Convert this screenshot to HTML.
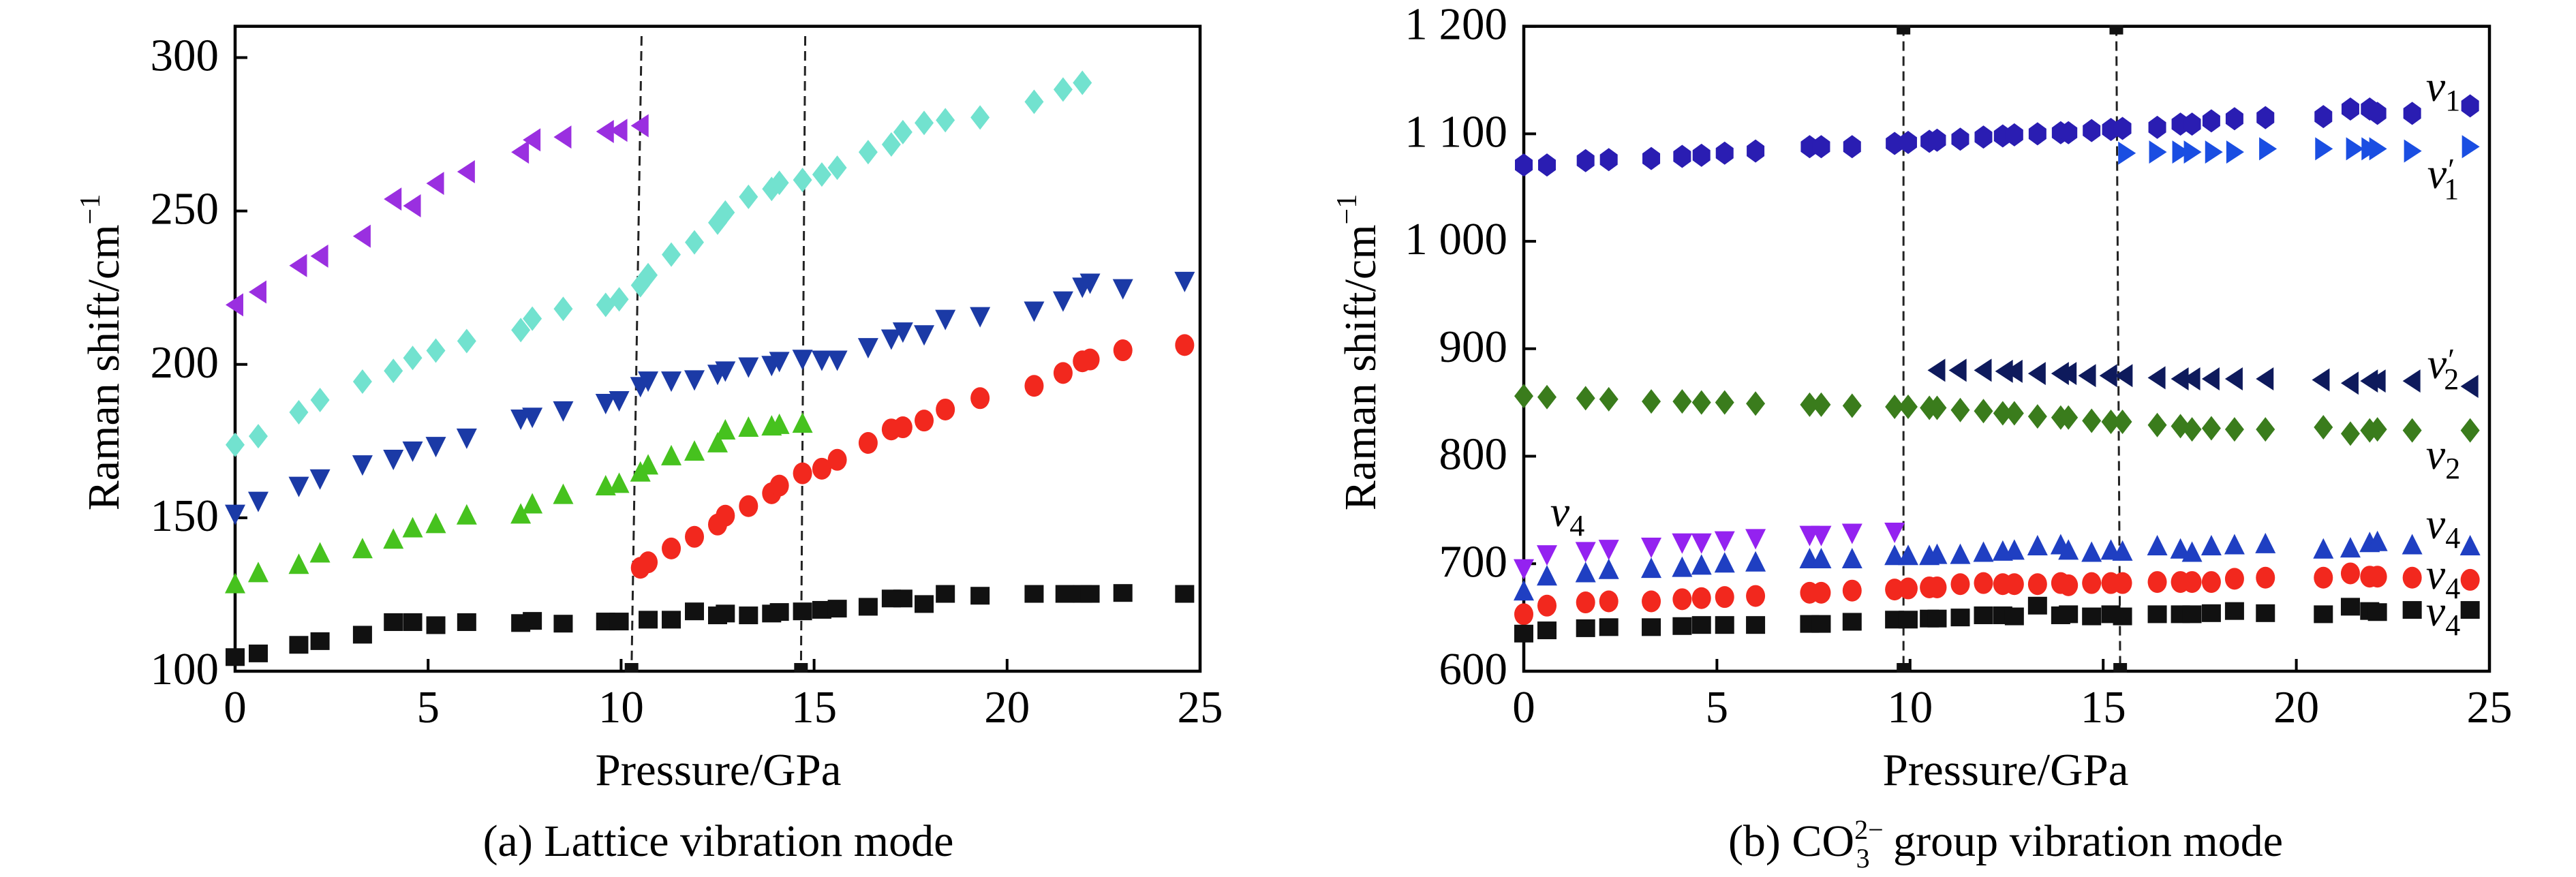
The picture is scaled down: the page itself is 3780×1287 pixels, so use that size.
<!DOCTYPE html>
<html><head><meta charset="utf-8"><style>
html,body{margin:0;padding:0;background:#fff;}
svg{display:block;font-family:"Liberation Serif",serif;}
</style></head><body>
<svg id="chart" width="3780" height="1287" viewBox="0 0 3780 1287" xmlns="http://www.w3.org/2000/svg"></svg>
<script>
// ---------- Panel (a) data ----------
const aBlackX=[0,0.6,1.65,2.2,3.3,4.1,4.6,5.2,6,7.4,7.7,8.5,9.6,9.95,10.7,11.3,11.9,12.5,12.7,13.3,13.9,14.1,14.7,15.2,15.6,16.4,17,17.3,17.85,18.4,19.3,20.7,21.5,21.95,22.15,23,24.6];
const aBlackY=[104.6,105.8,108.6,109.8,111.9,116,116,115,116,115.7,116.4,115.5,116.2,116.2,116.8,116.8,119.5,118.2,118.8,118.2,118.8,119.3,119.5,120,120.4,121,123.7,123.7,121.9,125.2,124.6,125.2,125.2,125.2,125.2,125.5,125.2];
const aRedX=[10.5,10.7,11.3,11.9,12.5,12.7,13.3,13.9,14.1,14.7,15.2,15.6,16.4,17,17.3,17.85,18.4,19.3,20.7,21.45,21.95,22.15,23,24.6];
const aRedY=[133.7,135.5,140,143.8,147.8,150.7,153.8,158,160.5,164.5,166,168.9,174.4,178.8,179.5,181.7,185.3,189,193,197.2,201,201.6,204.6,206.3];
const aGreenX=[0,0.6,1.65,2.2,3.3,4.1,4.6,5.2,6,7.4,7.7,8.5,9.6,9.95,10.5,10.7,11.3,11.9,12.5,12.7,13.3,13.9,14.1,14.7];
const aGreenY=[128.3,131.9,134.6,138.3,139.7,142.8,146.5,147.9,150.7,151,154.3,157.4,160.2,161,164.7,167,170,171.5,174.2,178.4,179.3,179.7,180.2,180.6];
const aBlueX=[0,0.6,1.65,2.2,3.3,4.1,4.6,5.2,6,7.4,7.7,8.5,9.6,9.95,10.5,10.7,11.3,11.9,12.5,12.7,13.3,13.9,14.1,14.7,15.2,15.6,16.4,17,17.3,17.85,18.4,19.3,20.7,21.45,21.95,22.15,23,24.6];
const aBlueY=[151.4,155.6,160.5,162.9,167.5,169.3,172,173.5,176.2,182.4,183,185.1,187.5,188.4,193,194.8,194.8,195.2,197,198.1,199.4,199.9,201.2,201.9,201.6,201.6,205.7,208.5,210.8,209.9,214.9,215.8,217.6,220.9,225.4,226.7,224.9,227.3];
const aCyanX=[0,0.6,1.65,2.2,3.3,4.1,4.6,5.2,6,7.4,7.7,8.5,9.6,9.95,10.5,10.7,11.3,11.9,12.5,12.7,13.3,13.9,14.1,14.7,15.2,15.6,16.4,17,17.3,17.85,18.4,19.3,20.7,21.45,21.95];
const aCyanY=[173.8,176.6,184.4,188.4,194.4,197.9,202.1,204.5,207.6,211.2,214.9,218.1,219.4,221.2,225.8,229.1,235.8,239.8,246.2,249.5,254.6,257.2,259.2,260.1,261.9,264.1,269.2,271.7,275.7,278.7,279.6,280.5,285.6,289.6,291.8];
const aPurpleX=[0,0.6,1.65,2.2,3.3,4.1,4.6,5.2,6,7.4,7.7,8.5,9.6,9.95,10.5];
const aPurpleY=[219.4,223.6,232.2,235.3,241.8,253.9,251.7,259,262.8,269.2,273.2,274.1,275.9,276.3,277.8];
const aXTicks=[0,5,10,15,20,25];
const aYTicks=[100,150,200,250,300];
const aYTickLabels=["100","150","200","250","300"];

// ---------- Panel (b) data ----------
const bX=[0,0.6,1.6,2.2,3.3,4.1,4.6,5.2,6,7.4,7.7,8.5,9.6,9.95,10.5,10.7,11.3,11.9,12.4,12.7,13.3,13.9,14.1,14.7,15.2,15.5,16.4,17,17.3,17.8,18.4,19.2,20.7,21.4,21.9,22.1,23,24.5];
const bNu1Y=[1071,1071,1075,1076,1077,1079,1080,1082,1084,1088,1088,1088,1091,1092,1093,1094,1095,1097,1098,1099,1100,1101,1101,1103,1104,1105,1106,1109,1109,1112,1114,1115,1116,1123,1123,1119,1119,1126];
const bNu1pX=[15.6,16.4,17,17.3,17.85,18.4,19.25,20.7,21.5,21.9,22.1,23,24.5];
const bNu1pY=[1082,1083,1083,1083,1083,1083,1086,1086,1086,1086,1086,1084,1088];
const bNu2pX=[10.7,11.25,11.9,12.45,12.7,13.3,13.9,14.1,14.6,15.15,15.55,16.4,17,17.3,17.8,18.4,19.2,20.65,21.4,21.9,22.1,23,24.5];
const bNu2pY=[880,880,880,879,879,877,877,877,875,875,875,873,872,872,872,872,872,871,868,870,870,870,865];
const bNu2Y=[856,855,854,853,851,851,850,850,849,848,848,847,846,846,845,845,843,842,840,840,837,836,836,833,832,832,829,828,825,826,825,825,827,821,824,825,824,824];
const bNu4PurX=[0,0.6,1.6,2.2,3.3,4.1,4.6,5.2,6,7.4,7.7,8.5,9.6];
const bNu4PurY=[696,709,712,714,716,720,720,722,724,727,727,729,730];
const bNu4BlueY=[674,688,691,694,695,696,698,700,701,704,704,704,707,707,707,708,708,710,711,712,716,717,712,710,712,711,716,713,710,716,717,718,713,714,719,720,717,716];
const bNu4RedY=[653,661,664,665,665,667,668,669,670,673,673,675,676,677,678,678,681,682,681,681,681,682,680,682,682,682,683,683,683,683,686,687,687,691,688,688,687,685];
const bNu4BlackY=[635,638,640,641,641,642,643,643,643,644,644,646,648,648,649,649,650,652,652,651,661,652,653,651,653,651,653,653,653,654,656,654,653,660,656,655,657,657];
const bXTicks=[0,5,10,15,20,25];
const bYTicks=[600,700,800,900,1000,1100,1200];
const bYTickLabels=["600","700","800","900","1 000","1 100","1 200"];

const NS="http://www.w3.org/2000/svg";
const svg=document.getElementById('chart');
function mk(tag,attrs,parent){const e=document.createElementNS(NS,tag);for(const k in attrs)e.setAttribute(k,attrs[k]);(parent||svg).appendChild(e);return e;}

function makeAxes(L,R,T,B,xmin,xmax,ymin,ymax){
  return {x:v=>L+(v-xmin)/(xmax-xmin)*(R-L), y:v=>B-(v-ymin)/(ymax-ymin)*(B-T), L,R,T,B};
}
const A=makeAxes(345,1761,38.6,985,0,25,100,310.2);
const Bx=makeAxes(2236,3653,38.6,985,0,25,600,1200);

function marker(g,shape,cx,cy,color){
  const s=15;let e;
  if(shape==='square') e=mk('rect',{x:cx-s+1,y:cy-s+2,width:2*s-2,height:2*s-4,fill:color},g);
  else if(shape==='circle') e=mk('ellipse',{cx:cx,cy:cy,rx:s-1,ry:s+1,fill:color},g);
  else if(shape==='up') e=mk('polygon',{points:`${cx},${cy-s-2} ${cx+s},${cy+s-2} ${cx-s},${cy+s-2}`,fill:color},g);
  else if(shape==='down') e=mk('polygon',{points:`${cx-s},${cy-s+2} ${cx+s},${cy-s+2} ${cx},${cy+s+2}`,fill:color},g);
  else if(shape==='left') e=mk('polygon',{points:`${cx+s-3},${cy-s-2} ${cx+s-3},${cy+s+2} ${cx-s+1},${cy}`,fill:color},g);
  else if(shape==='right') e=mk('polygon',{points:`${cx-s+3},${cy-s-2} ${cx-s+3},${cy+s+2} ${cx+s-1},${cy}`,fill:color},g);
  else if(shape==='diamond') e=mk('polygon',{points:`${cx},${cy-s-3} ${cx+s-1},${cy} ${cx},${cy+s+3} ${cx-s+1},${cy}`,fill:color},g);
  else if(shape==='hex') e=mk('polygon',{points:`${cx},${cy-s-2} ${cx+s-2},${cy-s/2} ${cx+s-2},${cy+s/2} ${cx},${cy+s+2} ${cx-s+2},${cy+s/2} ${cx-s+2},${cy-s/2}`,fill:color},g);
  
  
}
function series(ax,name,xs,ys,shape,color){
  const g=mk('g',{});
  
  
  for(let i=0;i<xs.length&&i<ys.length;i++) marker(g,shape,ax.x(xs[i]),ax.y(ys[i]),color);
}
function frame(ax,xt,yt,ylabels,prefix){
  const g=mk('g',{});
  
  
  const f=mk('rect',{x:ax.L,y:ax.T,width:ax.R-ax.L,height:ax.B-ax.T,fill:'none',stroke:'#000','stroke-width':4.5},g);
  
  
  xt.forEach(v=>{
    const px=ax.x(v);
    mk('line',{x1:px,y1:ax.B,x2:px,y2:ax.B-18,stroke:'#000','stroke-width':4},g);
    const t=mk('text',{x:px,y:1060,'font-size':67,'text-anchor':'middle',fill:'#000'},g);
    t.textContent=v;
    
    
  });
  yt.forEach((v,i)=>{
    const py=ax.y(v);
    mk('line',{x1:ax.L,y1:py,x2:ax.L+18,y2:py,stroke:'#000','stroke-width':4},g);
    const t=mk('text',{x:ax.L-24,y:py+19,'font-size':67,'text-anchor':'end',fill:'#000'},g);
    t.textContent=ylabels[i];
    
    
  });
}
function dashed(ax,x1,x2,capTop){
  const l=mk('line',{x1:ax.x(x1),y1:capTop?ax.T:53,x2:ax.x(x2),y2:ax.B,stroke:'#222','stroke-width':3,'stroke-dasharray':'14,8'});
  
  
  const r=mk('rect',{x:ax.x(x2)-10,y:ax.B-12,width:20,height:14,fill:'#111'});
  
  
  if(capTop){const r2=mk('rect',{x:ax.x(x1)-10,y:ax.T-2,width:20,height:14,fill:'#111'});
    
    }
}
function txt(x,y,s,size,name,extra){
  const t=mk('text',Object.assign({x:x,y:y,'font-size':size,'text-anchor':'middle',fill:'#000'},extra||{}));
  t.innerHTML=s;
  
  
  return t;
}

// Panel a
frame(A,aXTicks,aYTicks,aYTickLabels,'panel-a');
dashed(A,10.53,10.27,false);
dashed(A,14.77,14.66,false);
series(A,'series-a-black-square',aBlackX,aBlackY,'square','#111');
series(A,'series-a-red-circle',aRedX,aRedY,'circle','#f2281e');
series(A,'series-a-green-triangle',aGreenX,aGreenY,'up','#46c21e');
series(A,'series-a-blue-down-triangle',aBlueX,aBlueY,'down','#1b3aa6');
series(A,'series-a-cyan-diamond',aCyanX,aCyanY,'diamond','#72e2cf');
series(A,'series-a-purple-left-triangle',aPurpleX,aPurpleY,'left','#9a2fe0');
txt(1054,1152,'Pressure/GPa',67,'x-axis-title');
txt(1054,1256,'(a) Lattice vibration mode',66,'caption-a');
txt(0,0,'Raman shift/cm<tspan font-size="42" dy="-28">−1</tspan>',66,'y-axis-title',{transform:'translate(174,517) rotate(-90)'});

// Panel b
frame(Bx,bXTicks,bYTicks,bYTickLabels,'panel-b');
dashed(Bx,9.83,9.83,true);
dashed(Bx,15.34,15.44,true);
series(Bx,'series-nu1',bX,bNu1Y,'hex','#2a1db2');
series(Bx,'series-nu1-prime',bNu1pX,bNu1pY,'right','#1a4ee2');
series(Bx,'series-nu2-prime',bNu2pX,bNu2pY,'left','#0e1a5c');
series(Bx,'series-nu2',bX,bNu2Y,'diamond','#3a7c1c');
series(Bx,'series-nu4-purple',bNu4PurX,bNu4PurY,'down','#9422f0');
series(Bx,'series-nu4-blue',bX,bNu4BlueY,'up','#1f3fc2');
series(Bx,'series-nu4-red',bX,bNu4RedY,'circle','#f2281e');
series(Bx,'series-nu4-black',bX,bNu4BlackY,'square','#111');
const it={'font-style':'italic'};
txt(3585,148,'ν<tspan font-size="44" dy="14" font-style="normal">1</tspan>',64,'label-nu1',it);
txt(3585,276,'ν<tspan dx="2" dy="-12" font-style="normal" font-size="46">′</tspan><tspan font-size="44" dx="-16" dy="28" font-style="normal">1</tspan>',64,'label-nu1-prime',it);
txt(3585,555,'ν<tspan dx="2" dy="-12" font-style="normal" font-size="46">′</tspan><tspan font-size="44" dx="-16" dy="28" font-style="normal">2</tspan>',64,'label-nu2-prime',it);
txt(3585,688,'ν<tspan font-size="44" dy="14" font-style="normal">2</tspan>',64,'label-nu2',it);
txt(3585,790,'ν<tspan font-size="44" dy="14" font-style="normal">4</tspan>',64,'label-nu4-blue',it);
txt(3585,864,'ν<tspan font-size="44" dy="14" font-style="normal">4</tspan>',64,'label-nu4-red',it);
txt(3585,918,'ν<tspan font-size="44" dy="14" font-style="normal">4</tspan>',64,'label-nu4-black',it);
txt(2300,772,'ν<tspan font-size="44" dy="14" font-style="normal">4</tspan>',64,'label-nu4-purple',it);
txt(2943,1152,'Pressure/GPa',67,'x-axis-title-b');
txt(2943,1256,'(b) CO<tspan font-size="40" dy="-25">2−</tspan><tspan font-size="40" dx="-40" dy="42">3</tspan><tspan dx="18" dy="-17"> group vibration mode</tspan>',66,'caption-b');
txt(0,0,'Raman shift/cm<tspan font-size="42" dy="-28">−1</tspan>',66,'y-axis-title-b',{transform:'translate(2018,517) rotate(-90)'});
</script>
</body></html>
